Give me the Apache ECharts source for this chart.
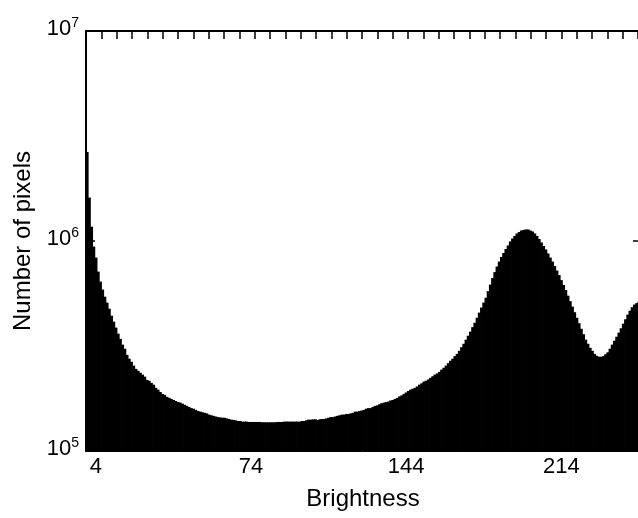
<!DOCTYPE html>
<html>
<head>
<meta charset="utf-8">
<script src="https://cdn.jsdelivr.net/npm/echarts@6/dist/echarts.min.js"></script>
<style>
html,body{margin:0;padding:0;background:#fff;}
#chart{width:638px;height:518px;}
</style>
</head>
<body>
<div id="chart"></div>
<script>
// Brightness bins 0..249
const brightness = Array.from({length: 250}, (_, i) => i);
// Number of pixels per brightness bin
const pixelCounts = [
  2650000, 1610000, 1170000, 941000, 834000, 715000, 641000, 587000, 543000, 509000,
  476000, 441000, 413000, 387000, 362000, 342000, 321000, 307000, 287000, 275000,
  266000, 255000, 246000, 241000, 236000, 231000, 226000, 218000, 216000, 211000,
  207000, 200000, 196000, 191000, 187000, 185000, 181000, 179000, 177000, 175000,
  173000, 171000, 170000, 168000, 166000, 164000, 162000, 160000, 159000, 157000,
  155000, 154000, 153000, 152000, 151000, 149000, 148000, 147000, 146000, 145000,
  144500, 144000, 144000, 143000, 142000, 141000, 140600, 140000, 139000, 139000,
  138000, 138000, 138000, 137500, 137500, 137500, 137500, 137500, 137500, 137000,
  137000, 137000, 137000, 137000, 137000, 137000, 137500, 137500, 137500, 138000,
  138000, 138000, 138000, 138000, 138000, 138000, 138000, 139000, 139000, 140000,
  141000, 141000, 141500, 141500, 140500, 141500, 142000, 142000, 143000, 144000,
  145000, 145000, 146000, 147000, 148000, 149000, 149000, 150000, 150000, 151000,
  152000, 154000, 154000, 155000, 156000, 157000, 159000, 160000, 160000, 162000,
  164000, 165000, 167000, 169000, 170000, 171000, 172000, 174000, 175000, 177000,
  179000, 182000, 184000, 187000, 190000, 193000, 196000, 198000, 200000, 203000,
  207000, 210000, 214000, 216000, 219000, 223000, 227000, 231000, 234000, 238000,
  244000, 249000, 255000, 262000, 269000, 275000, 283000, 290000, 300000, 312000,
  324000, 339000, 354000, 370000, 389000, 408000, 431000, 456000, 482000, 509000,
  537000, 577000, 620000, 666000, 711000, 756000, 798000, 839000, 877000, 916000,
  952000, 995000, 1028000, 1057000, 1086000, 1104000, 1122000, 1129000, 1135000, 1135000,
  1122000, 1110000, 1086000, 1057000, 1022000, 984000, 947000, 911000, 872000, 834000,
  798000, 760000, 723000, 688000, 651000, 617000, 584000, 549000, 517000, 487000,
  458000, 431000, 406000, 382000, 360000, 339000, 324000, 310000, 300000, 290000,
  284000, 281000, 281000, 283000, 289000, 295000, 307000, 321000, 335000, 350000,
  366000, 384000, 404000, 424000, 446000, 466000, 484000, 498000, 506000, 514000
];
const xTickLabels = [4, 74, 144, 214];
const yTickExponents = [5, 6, 7];
const yMin = 1e5, yMax = 1e7;
const topTickCount = 36.13; // decorative top-box ticks

const font = 'Liberation Sans, Arial, Helvetica, sans-serif';
const chart = echarts.init(document.getElementById('chart'), null, {renderer: 'canvas'});

function yLabel(v) {
  const e = Math.round(Math.log10(v));
  if (yTickExponents.indexOf(e) < 0) return '';
  return '{b|10}{s|' + e + '}';
}
const yRich = {
  b: {fontSize: 22, fontFamily: font, color: '#000', lineHeight: 26},
  s: {fontSize: 14, fontFamily: font, color: '#000', lineHeight: 10, verticalAlign: 'top'}
};

chart.setOption({
  animation: false,
  backgroundColor: '#fff',
  grid: {left: 86, right: -2, top: 31, bottom: 67, containLabel: false, outerBoundsMode: 'none'},
  xAxis: [
    {
      type: 'category',
      data: brightness,
      position: 'bottom',
      boundaryGap: true,
      axisLine: {show: true, lineStyle: {color: '#000', width: 1}},
      axisTick: {show: false},
      axisLabel: {
        interval: (idx, val) => xTickLabels.indexOf(Number(val)) >= 0,
        color: '#000', fontSize: 22, fontFamily: font, margin: 5
      },
      splitLine: {show: false},
      name: 'Brightness',
      nameLocation: 'middle',
      nameGap: 36,
      nameTextStyle: {color: '#000', fontSize: 24, fontFamily: font}
    },
    {
      type: 'value',
      position: 'top',
      min: 0, max: topTickCount, interval: 1,
      axisLine: {show: true, lineStyle: {color: '#000', width: 2}},
      axisTick: {show: true, inside: true, length: 8, lineStyle: {color: '#000', width: 1.5}},
      axisLabel: {show: false},
      splitLine: {show: false}
    }
  ],
  yAxis: [
    {
      type: 'log',
      logBase: 10,
      min: yMin, max: yMax,
      position: 'left',
      z: 3,
      axisLine: {show: true, lineStyle: {color: '#000', width: 2}},
      axisTick: {show: true, inside: true, length: 9, lineStyle: {color: '#000', width: 1.5}},
      minorTick: {show: false},
      axisLabel: {formatter: yLabel, rich: yRich, margin: 7, padding: [0, 0, 4, 0]},
      splitLine: {show: false},
      name: 'Number of pixels',
      nameLocation: 'middle',
      nameGap: 44,
      nameRotate: 90,
      nameTextStyle: {color: '#000', fontSize: 24, fontFamily: font}
    },
    {
      type: 'log',
      logBase: 10,
      min: yMin, max: yMax,
      position: 'right',
      axisLine: {show: true, lineStyle: {color: '#000', width: 2}},
      axisTick: {show: true, inside: true, length: 7, lineStyle: {color: '#000', width: 1.5}},
      axisLabel: {show: false},
      splitLine: {show: false}
    }
  ],
  series: [
    {
      type: 'bar',
      xAxisIndex: 0,
      yAxisIndex: 0,
      data: pixelCounts,
      barWidth: 3,
      barGap: '-100%',
      itemStyle: {color: '#000'},
      emphasis: {disabled: true}
    }
  ]
});
</script>
</body>
</html>
